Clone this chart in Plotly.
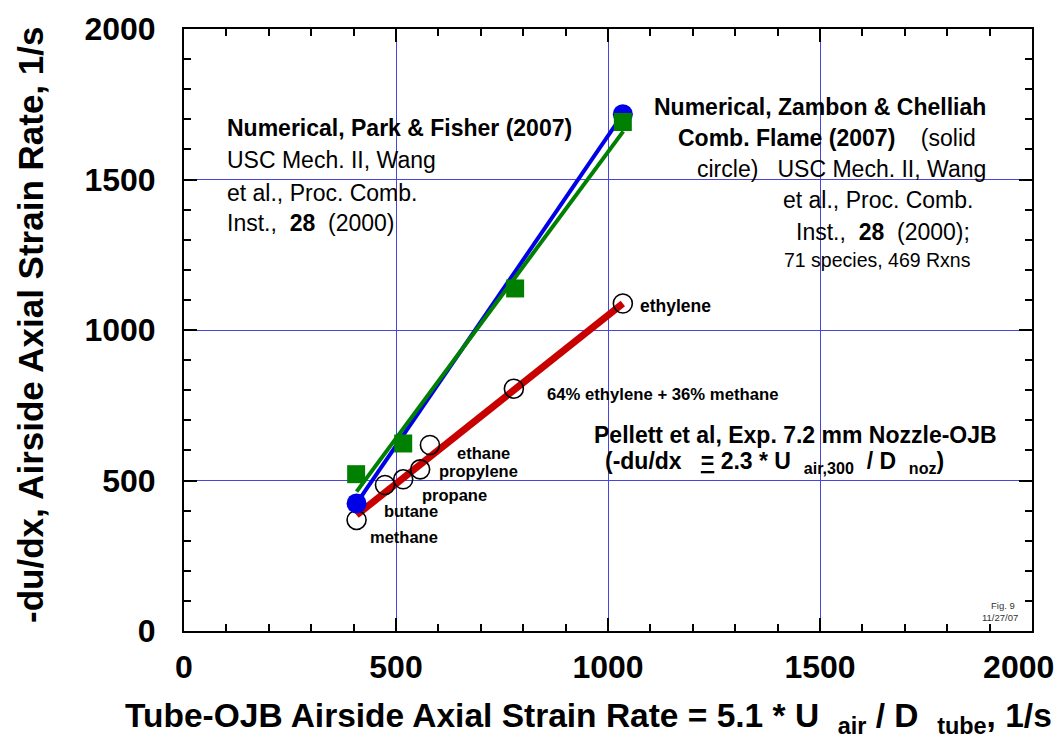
import plotly.graph_objects as go

# ---------------- data ----------------
# Pellett et al. experiments, 7.2 mm nozzle OJB (open circles)
exp_labels = ["methane", "butane", "propane", "propylene", "ethane",
              "64% ethylene + 36% methane", "ethylene"]
exp_x = [407, 474, 517, 557, 580, 778, 1035]
exp_y = [369, 485, 504, 537, 618, 805, 1088]
# red linear fit through the experiments (end points)
exp_fit_x = [407, 1035]
exp_fit_y = [385, 1088]

# Numerical, Park & Fisher (2007) (green squares) and fit line end points
park_x = [406, 517, 781, 1035]
park_y = [521, 623, 1138, 1691]
park_fit_x = [407, 1036]
park_fit_y = [463, 1660]

# Numerical, Zambon & Chelliah (2007) (solid blue circles)
zambon_x = [407, 1035]
zambon_y = [424, 1717]

x_ticks = [0, 500, 1000, 1500, 2000]
y_ticks = [0, 500, 1000, 1500, 2000]
NB = "\u00a0"
x_tick_text = ["0", "500", "1000", "1500", "2000" + NB * 3]
y_tick_text = ["0", "500", "1000", "1500", "2000"]

# ---------------- layout geometry ----------------
# the page body adds an 8 px offset, so the figure is 8 px smaller
OFF = 8
W, H = 1063 - OFF, 741 - OFF
L, R, T, B = 184 - OFF, 31, 29 - OFF, 110
PLOT_L, PLOT_R, PLOT_T, PLOT_B = 184, 1032, 29, 631
FONT = "Liberation Sans, Arial, Helvetica, sans-serif"


def px(x):
    return (x - PLOT_L) / (PLOT_R - PLOT_L)


def py(y):
    return (PLOT_B - y) / (PLOT_B - PLOT_T)


fig = go.Figure()

fig.add_trace(go.Scatter(x=exp_fit_x, y=exp_fit_y, mode="lines",
                         line=dict(color="#c80000", width=7), hoverinfo="skip",
                         showlegend=False))
fig.add_trace(go.Scatter(x=exp_x, y=exp_y, mode="markers", text=exp_labels,
                         marker=dict(symbol="circle-open", size=19,
                                     color="black", line=dict(width=1.6, color="black")),
                         showlegend=False))
fig.add_trace(go.Scatter(x=zambon_x, y=zambon_y, mode="lines",
                         line=dict(color="#0000e6", width=4), hoverinfo="skip",
                         showlegend=False))
fig.add_trace(go.Scatter(x=zambon_x, y=zambon_y, mode="markers",
                         marker=dict(symbol="circle", size=20, color="#0000e6"),
                         showlegend=False))
fig.add_trace(go.Scatter(x=park_fit_x, y=park_fit_y, mode="lines",
                         line=dict(color="#008000", width=4), hoverinfo="skip",
                         showlegend=False))
fig.add_trace(go.Scatter(x=park_x, y=park_y, mode="markers",
                         marker=dict(symbol="square", size=18, color="#008000"),
                         showlegend=False))

ann = []


def add(text, x, y, size, xanchor="left", yanchor="middle", color="black", angle=0):
    ann.append(dict(text=text, x=px(x), y=py(y), xref="paper", yref="paper",
                    xanchor=xanchor, yanchor=yanchor, showarrow=False,
                    textangle=angle,
                    font=dict(family=FONT, size=size, color=color)))


# species labels
label_pos = {
    "methane": (368, 537, 16.5),
    "butane": (382, 511, 16.5),
    "propane": (420, 495, 16.5),
    "propylene": (437, 471, 16.5),
    "ethane": (455, 453, 16.5),
    "64% ethylene + 36% methane": (545, 394, 16.7),
    "ethylene": (638, 306, 17.5),
}
for lab in exp_labels:
    x, y, s = label_pos[lab]
    add("<b>" + lab + "</b>", x, y, s)

# left block (Park & Fisher)
add("<b>Numerical, Park & Fisher (2007)</b>", 225, 128, 23)
add("USC Mech. II, Wang", 225, 160, 23)
add("et al., Proc. Comb.", 225, 193, 23)
add("Inst.," + NB * 2 + "<b>28</b>" + NB * 2 + "(2000)", 225, 223, 23)

# right block (Zambon & Chelliah)
add("<b>Numerical, Zambon & Chelliah</b>", 988, 107, 23, xanchor="right")
add("<b>Comb. Flame (2007)</b>" + NB * 4 + "(solid", 978, 138, 23, xanchor="right")
add("circle)" + NB * 3 + "USC Mech. II, Wang", 988, 169, 23, xanchor="right")
add("et al., Proc. Comb.", 975, 200, 23, xanchor="right")
add("Inst.," + NB * 2 + "<b>28</b>" + NB * 2 + "(2000);", 972, 232, 23, xanchor="right")
add("71 species, 469 Rxns", 973, 260, 19.5, xanchor="right")

# Pellett block
add("<b>Pellett et al, Exp. 7.2 mm Nozzle-OJB</b>", 592, 435, 23)
add("<b>(-du/dx" + NB * 3 + "<u>=</u>" + NB + "2.3 * U" + NB * 2 + "<sub>air,300</sub>"
    + NB * 2 + "/ D" + NB * 2 + "<sub>noz</sub>)</b>", 603, 463, 23)

# figure stamp
add("Fig. 9", 1017, 605, 9.5, xanchor="right", color="#333333")
add("11/27/07", 1020, 617, 9.5, xanchor="right", color="#333333")

# axis titles
add("<b>Tube-OJB Airside Axial Strain Rate = 5.1 * U" + NB * 2 + "<sub>air</sub>" + NB
    + "/ D" + NB * 2 + "<sub>tube</sub>, 1/s</b>", 588, 718, 33.5, xanchor="center")
add("<b>-du/dx, Airside Axial Strain Rate, 1/s</b>", 30, 325, 35, xanchor="center",
    angle=-90)

axis_common = dict(
    showline=True, linecolor="black", linewidth=2, mirror="allticks",
    ticks="inside", ticklen=13, tickwidth=1.5, tickcolor="black",
    showgrid=True, gridcolor="#4646dc", gridwidth=1,
    zeroline=False, range=[0, 2000], ticklabeloverflow="allow",
    automargin=False,
    tickfont=dict(family=FONT, size=32, color="black", weight="bold"),
    minor=dict(dtick=100, ticks="inside", ticklen=7, tickwidth=1.5,
               tickcolor="black", showgrid=False),
)

fig.update_layout(
    width=W, height=H, autosize=False,
    margin=dict(l=L, r=R, t=T, b=B),
    paper_bgcolor="white", plot_bgcolor="white",
    font=dict(family=FONT, color="black"),
    xaxis=dict(tickvals=x_ticks, ticktext=x_tick_text, ticklabelstandoff=7,
               **axis_common),
    yaxis=dict(tickvals=y_ticks, ticktext=y_tick_text, ticklabelstandoff=20,
               **axis_common),
    annotations=ann,
    showlegend=False,
)

fig.write_html("out.html")
